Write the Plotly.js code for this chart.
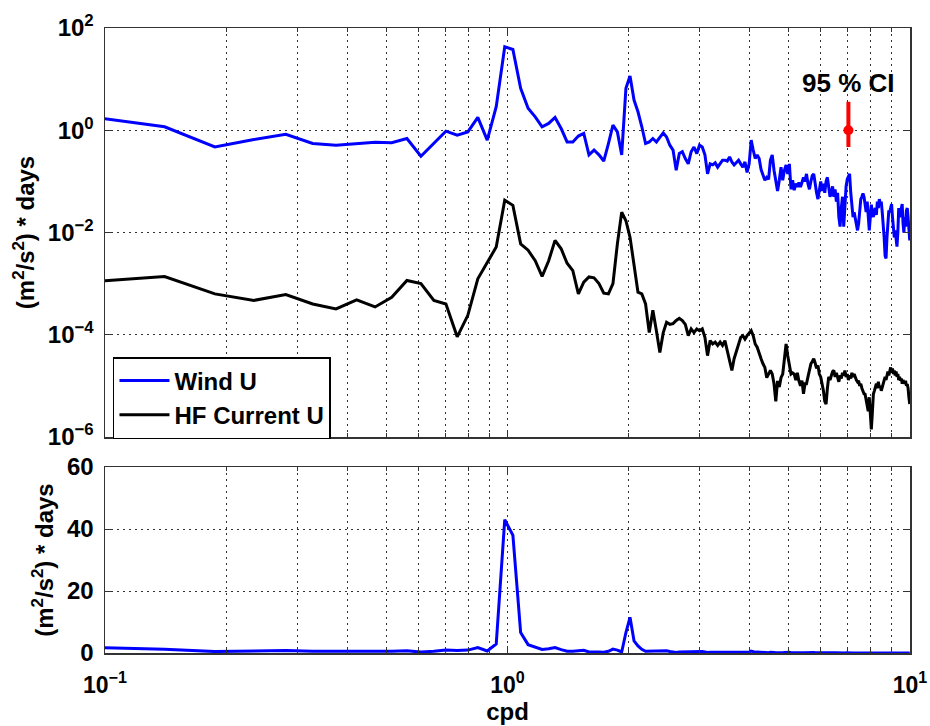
<!DOCTYPE html>
<html><head><meta charset="utf-8">
<script src="https://cdn.plot.ly/plotly-3.0.1.min.js"></script>
<style>html,body{margin:0;padding:0;background:#fff;}</style>
</head><body>
<div id="chart" style="width:930px;height:726px;"></div>
<script>
// Frequencies (cycles per day)
const freqCpd = [
0.0938,0.1406,0.1875,0.2344,0.2813,0.3281,0.375,0.4219,0.4688,0.5156,
0.5625,0.6094,0.6563,0.7031,0.75,0.7969,0.8438,0.8906,0.9375,0.9844,
1.0313,1.0781,1.125,1.1719,1.2188,1.2656,1.3125,1.3594,1.4063,1.4531,
1.5,1.5469,1.5938,1.6406,1.6875,1.7344,1.7813,1.8281,1.875,1.9219,
1.9688,2.0156,2.0625,2.1094,2.1563,2.2031,2.25,2.2969,2.3438,2.3906,
2.4375,2.4844,2.5313,2.5781,2.625,2.6719,2.7188,2.7656,2.8125,2.8594,
2.9063,2.9531,3.0,3.0469,3.0938,3.1406,3.1875,3.2344,3.2813,3.3281,
3.375,3.4219,3.4688,3.5156,3.5625,3.6094,3.6563,3.7031,3.75,3.7969,
3.8438,3.8906,3.9375,3.9844,4.0313,4.0781,4.125,4.1719,4.2188,4.2656,
4.3125,4.3594,4.4063,4.4531,4.5,4.5469,4.5938,4.6406,4.6875,4.7344,
4.7813,4.8281,4.875,4.9219,4.9688,5.0156,5.0625,5.1094,5.1563,5.2031,
5.25,5.2969,5.3438,5.3906,5.4375,5.4844,5.5313,5.5781,5.625,5.6719,
5.7188,5.7656,5.8125,5.8594,5.9063,5.9531,6.0,6.0469,6.0938,6.1406,
6.1875,6.2344,6.2813,6.3281,6.375,6.4219,6.4688,6.5156,6.5625,6.6094,
6.6563,6.7031,6.75,6.7969,6.8438,6.8906,6.9375,6.9844,7.0313,7.0781,
7.125,7.1719,7.2188,7.2656,7.3125,7.3594,7.4063,7.4531,7.5,7.5469,
7.5938,7.6406,7.6875,7.7344,7.7813,7.8281,7.875,7.9219,7.9688,8.0156,
8.0625,8.1094,8.1563,8.2031,8.25,8.2969,8.3438,8.3906,8.4375,8.4844,
8.5313,8.5781,8.625,8.6719,8.7188,8.7656,8.8125,8.8594,8.9063,8.9531,
9.0,9.0469,9.0938,9.1406,9.1875,9.2344,9.2813,9.3281,9.375,9.4219,
9.4688,9.5156,9.5625,9.6094,9.6563,9.7031,9.75,9.7969,9.8438,9.8906,
9.9375,9.9844
];
// Wind U spectrum, (m^2/s^2)*days
const windU = [
1.8,1.17,0.47,0.66,0.83,0.55,0.51,0.55,0.58,0.57,
0.69,0.31,0.55,0.96,0.80,0.93,1.78,0.64,2.9,43,
38,6.6,2.7,1.83,1.17,1.36,1.78,1.08,0.59,0.59,
0.77,0.87,0.33,0.41,0.33,0.25,0.55,1.26,0.93,0.33,
6.6,11.5,3.9,2.3,1.17,0.55,0.59,0.69,0.59,0.74,
0.89,0.74,0.51,0.41,0.165,0.35,0.38,0.28,0.22,0.38,
0.47,0.35,0.51,0.47,0.33,0.14,0.22,0.21,0.23,0.19,
0.22,0.26,0.26,0.25,0.30,0.24,0.21,0.24,0.26,0.22,
0.19,0.24,0.15,0.22,0.64,0.41,0.28,0.33,0.28,0.17,
0.13,0.105,0.12,0.11,0.26,0.33,0.165,0.11,0.065,0.105,
0.19,0.105,0.165,0.21,0.14,0.22,0.07,0.105,0.067,0.09,
0.078,0.095,0.078,0.095,0.12,0.10,0.14,0.09,0.07,0.10,
0.13,0.14,0.08,0.06,0.045,0.07,0.10,0.065,0.09,0.06,
0.10,0.12,0.07,0.05,0.06,0.08,0.05,0.07,0.04,0.06,
0.02,0.013,0.03,0.05,0.013,0.04,0.08,0.11,0.13,0.14,
0.06,0.03,0.02,0.025,0.018,0.014,0.011,0.015,0.03,0.045,
0.05,0.058,0.05,0.03,0.025,0.04,0.02,0.011,0.02,0.035,
0.024,0.02,0.027,0.03,0.022,0.04,0.03,0.045,0.036,0.04,
0.025,0.015,0.008,0.0035,0.0031,0.008,0.02,0.027,0.025,0.03,
0.036,0.02,0.012,0.008,0.011,0.006,0.0053,0.01,0.03,0.02,
0.025,0.035,0.036,0.015,0.01,0.02,0.013,0.027,0.03,0.02,
0.01,0.007
];
// HF radar current U spectrum, (m^2/s^2)*days
const hfCurrentU = [
1.1e-3,1.38e-3,6.3e-4,4.7e-4,6.1e-4,4.0e-4,3.2e-4,4.8e-4,3.5e-4,5.4e-4,
1.15e-3,1.0e-3,4.7e-4,4.0e-4,9.1e-5,2.4e-4,1.24e-3,2.6e-3,5.2e-3,0.043,
0.034,6.0e-3,4.5e-3,2.8e-3,1.38e-3,2.8e-3,7.0e-3,4.8e-3,2.5e-3,1.8e-3,
6.3e-4,1.07e-3,1.35e-3,1.3e-3,1.0e-3,6.5e-4,6.3e-4,1.0e-3,6.0e-3,0.025,
0.017,8.1e-3,2.5e-3,6.8e-4,6.3e-4,4.0e-4,1.1e-4,3.0e-4,1.2e-4,4.5e-5,
1.1e-4,1.75e-4,1.6e-4,1.65e-4,1.9e-4,2.1e-4,1.9e-4,1.6e-4,9.6e-5,1.3e-4,
1.1e-4,1.3e-4,1.2e-4,1.3e-4,8.9e-5,3.9e-5,7.7e-5,6.6e-5,7.2e-5,6.2e-5,
7.2e-5,6.2e-5,7.7e-5,4.9e-5,2.7e-5,2.0e-5,3.4e-5,4.9e-5,6.6e-5,8.9e-5,
9.6e-5,8.2e-5,9.6e-5,1.1e-4,1.2e-4,9.6e-5,6.6e-5,5.7e-5,4.2e-5,3.4e-5,
2.7e-5,2.3e-5,1.45e-5,1.7e-5,2.0e-5,1.7e-5,1.1e-5,5.0e-6,1.25e-5,9.5e-6,
1.45e-5,1.7e-5,3.1e-5,6.6e-5,3.9e-5,2.3e-5,1.7e-5,1.8e-5,1.7e-5,1.3e-5,
1.8e-5,1.25e-5,1.0e-5,1.26e-5,7e-6,1.1e-5,1.1e-5,1.5e-5,2.0e-5,2.7e-5,
3.0e-5,3.4e-5,2.8e-5,2.2e-5,2.5e-5,1.7e-5,1.5e-5,1.1e-5,8e-6,5e-6,
4.4e-6,9e-6,1.5e-5,1.3e-5,1.6e-5,1.9e-5,2.0e-5,1.5e-5,1.8e-5,1.4e-5,
1.2e-5,1.6e-5,1.4e-5,1.8e-5,1.6e-5,2.0e-5,1.5e-5,1.7e-5,1.3e-5,1.6e-5,
1.4e-5,1.8e-5,1.5e-5,1.7e-5,1.4e-5,1.3e-5,1.2e-5,1.26e-5,1.0e-5,1.1e-5,
9e-6,8e-6,7e-6,6.9e-6,5e-6,4e-6,3.2e-6,6e-6,2.5e-6,1.4e-6,
3e-6,6.9e-6,8e-6,1e-5,1.1e-5,9e-6,1.2e-5,9.3e-6,1.0e-5,8e-6,
9.3e-6,1.1e-5,1.3e-5,1.5e-5,1.3e-5,1.7e-5,1.9e-5,1.6e-5,2.1e-5,2.3e-5,
1.8e-5,2.2e-5,1.7e-5,2.0e-5,1.6e-5,1.9e-5,1.5e-5,1.7e-5,1.3e-5,1.5e-5,
1.26e-5,1.4e-5,1.1e-5,1.3e-5,1.2e-5,1.1e-5,1.26e-5,1.0e-5,1.08e-5,9e-6,
6e-6,4.4e-6
];
const seriesNames = ['Wind U', 'HF Current U'];
// 95% confidence interval marker
const ciFreq = [7.03];
const ciCenter = [1.0];
const ciUpper = [3.6];
const ciLower = [0.47];
const ciLabel = '95 % CI';
// Axis ticks
const xTickVals = [0.1, 1, 10];
const xTickText = ['10<sup>−1</sup>', '10<sup>0</sup>', '10<sup>1</sup>'];
const xMinorVals = [0.2,0.3,0.4,0.5,0.6,0.7,0.8,0.9,2,3,4,5,6,7,8,9];
const yLogTickVals = [1e-6, 1e-4, 1e-2, 1, 1e2];
const yLogTickText = ['10<sup>−6</sup>', '10<sup>−4</sup>', '10<sup>−2</sup>', '10<sup>0</sup>', '10<sup>2</sup>'];
const yLinTickVals = [0, 20, 40, 60];
const yTitle = '(m<sup>2</sup>/s<sup>2</sup>) * days';
const xTitle = 'cpd';

const FONT = 'Liberation Sans, Arial, Helvetica, sans-serif';
const GRID = '2px,4px';
const GRIDCOL = '#333';
const TICKSIZE = 24;

function axisBase(extra) {
  return Object.assign({
    showline: true, linecolor: '#333', linewidth: 1.5, mirror: 'allticks',
    ticks: 'inside', ticklen: 7, tickcolor: '#333', tickwidth: 1,
    showgrid: true, gridcolor: GRIDCOL, griddash: GRID, gridwidth: 1,
    zeroline: false, automargin: false,
    tickfont: {family: FONT, size: TICKSIZE, color: '#000', weight: 'bold'}
  }, extra);
}
function xAxis(extra) {
  return axisBase(Object.assign({
    type: 'log', range: [-1, 1], tickmode: 'array',
    tickvals: xTickVals, ticktext: xTickText,
    minor: {tickmode: 'array', tickvals: xMinorVals, ticks: 'inside', ticklen: 4,
            tickcolor: '#333', showgrid: true, gridcolor: GRIDCOL, griddash: GRID, gridwidth: 1}
  }, extra));
}

const traces = [
  {x: freqCpd, y: windU, xaxis: 'x', yaxis: 'y', type: 'scatter', mode: 'lines',
   name: seriesNames[0], line: {color: '#0000ff', width: 3}},
  {x: freqCpd, y: hfCurrentU, xaxis: 'x', yaxis: 'y', type: 'scatter', mode: 'lines',
   name: seriesNames[1], line: {color: '#000000', width: 3}},
  {x: ciFreq, y: ciCenter, xaxis: 'x', yaxis: 'y', type: 'scatter', mode: 'markers',
   showlegend: false, marker: {color: '#ff0000', size: 10},
   error_y: {type: 'data', symmetric: false,
     array: ciUpper.map((u, i) => u - ciCenter[i]),
     arrayminus: ciLower.map((l, i) => ciCenter[i] - l),
     color: '#ff0000', thickness: 4, width: 0}},
  {x: freqCpd, y: windU, xaxis: 'x2', yaxis: 'y2', type: 'scatter', mode: 'lines',
   showlegend: false, name: seriesNames[0], line: {color: '#0000ff', width: 3}}
];

const layout = {
  width: 930, height: 726,
  margin: {l: 105, r: 20, t: 28, b: 73},
  paper_bgcolor: '#fff', plot_bgcolor: '#fff',
  font: {family: FONT, color: '#000'},
  showlegend: true,
  legend: {x: 0.0099, y: 0.4736, xanchor: 'left', yanchor: 'top',
           bgcolor: '#fff', bordercolor: '#000', borderwidth: 1.5,
           font: {family: FONT, size: 24, color: '#000', weight: 'bold'},
           itemwidth: 50, tracegroupgap: 0},
  xaxis: xAxis({domain: [0, 1], anchor: 'y', showticklabels: false}),
  yaxis: axisBase({domain: [0.3456, 1], anchor: 'x', type: 'log', range: [-6, 2],
    tickmode: 'array', tickvals: yLogTickVals, ticktext: yLogTickText, ticklabelstandoff: 5,
    title: {text: yTitle, standoff: 6, font: {family: FONT, size: 24, color: '#000', weight: 'bold'}}}),
  xaxis2: xAxis({domain: [0, 1], anchor: 'y2', ticklabelstandoff: 11,
    tickfont: {family: FONT, size: 23, color: '#000', weight: 'bold'},
    title: {text: xTitle, standoff: 3, font: {family: FONT, size: 24, color: '#000', weight: 'bold'}}}),
  yaxis2: axisBase({domain: [0, 0.2976], anchor: 'x2', range: [0, 60],
    tickmode: 'array', tickvals: yLinTickVals, ticklabelstandoff: 5,
    title: {text: yTitle, standoff: 6, font: {family: FONT, size: 24, color: '#000', weight: 'bold'}}}),
  annotations: [
    {xref: 'x', yref: 'y', x: Math.log10(ciFreq[0]), y: 0.92, text: ciLabel,
     showarrow: false, xanchor: 'center', yanchor: 'middle',
     font: {family: FONT, size: 26, color: '#000', weight: 'bold'}}
  ]
};

Plotly.newPlot('chart', traces, layout, {displayModeBar: false, staticPlot: true});
</script>
</body></html>
